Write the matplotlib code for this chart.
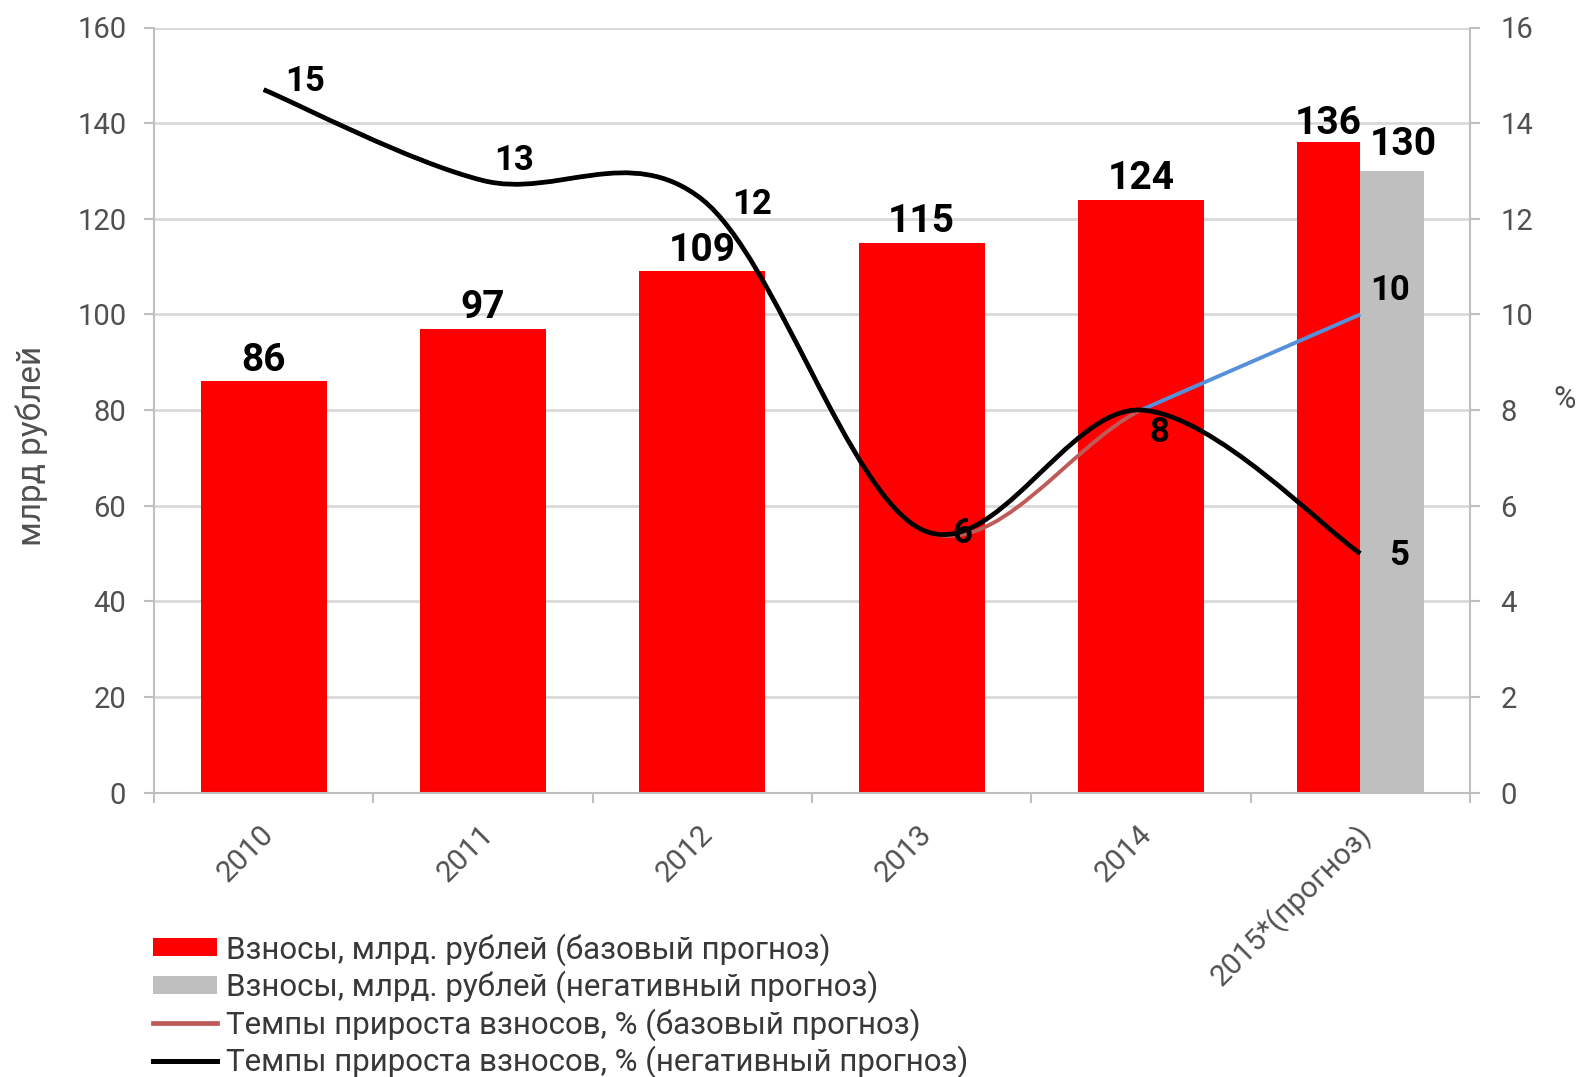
import matplotlib.pyplot as plt
import numpy as np
from matplotlib.path import Path
from matplotlib.patches import PathPatch, Patch
from matplotlib.lines import Line2D
from matplotlib.transforms import ScaledTranslation

plt.rcParams['font.family'] = ['Roboto', 'DejaVu Sans']

years = ['2010', '2011', '2012', '2013', '2014', '2015*(прогноз)']
contrib_base = [86, 97, 109, 115, 124, 136]      # млрд руб., базовый
contrib_neg = [0, 0, 0, 0, 0, 130]               # млрд руб., негативный (только 2015)
growth_base = [14.7, 12.8, 12.4, 5.5, 8.0, 10.0]  # %
growth_neg = [14.7, 12.8, 12.4, 5.5, 8.0, 5.0]    # %

legend_labels = ['Взносы, млрд. рублей (базовый прогноз)',
                 'Взносы, млрд. рублей (негативный прогноз)',
                 'Темпы прироста взносов, % (базовый прогноз)',
                 'Темпы прироста взносов, % (негативный прогноз)']

RED = '#FF0000'
GREY = '#BFBFBF'
BROWN = '#BE5A57'
BLUE = '#5590DA'
TXT = '#505050'


def smooth_path(xs, ys, nseg=None):
    # Excel-like smoothed line: cubic Bezier through the points
    pts = np.column_stack([xs, ys]).astype(float)
    n = len(pts)
    if nseg is None:
        nseg = n - 1
    verts = [pts[0]]
    codes = [Path.MOVETO]
    for i in range(nseg):
        p0 = pts[max(i - 1, 0)]
        p1 = pts[i]
        p2 = pts[i + 1]
        p3 = pts[min(i + 2, n - 1)]
        verts += [p1 + (p2 - p0) / 6, p2 - (p3 - p1) / 6, p2]
        codes += [Path.CURVE4] * 3
    return Path(verts, codes)


fig = plt.figure(figsize=(15.81, 10.77), dpi=100)
ax = fig.add_axes([154 / 1581, 1 - 792.5 / 1077, 1316 / 1581, 765 / 1077])
x = np.arange(len(years))

# bars
full_w = 0.574
half_w = 0.288
for i in x:
    if contrib_neg[i] > 0:
        ax.bar(i - half_w, contrib_base[i], half_w, align='edge', color=RED, zorder=2)
        ax.bar(i, contrib_neg[i], half_w, align='edge', color=GREY, zorder=2)
        ax.annotate(str(contrib_base[i]), (i - half_w / 2, contrib_base[i]), xytext=(0, 0),
                    textcoords='offset points', ha='center', va='bottom',
                    fontsize=28, fontweight='bold', color='black')
        ax.annotate(str(contrib_neg[i]), (i + half_w / 2, contrib_neg[i]), xytext=(8, 6),
                    textcoords='offset points', ha='center', va='bottom',
                    fontsize=28, fontweight='bold', color='black')
    else:
        ax.bar(i, contrib_base[i], full_w, color=RED, zorder=2)
        ax.annotate(str(contrib_base[i]), (i, contrib_base[i]), xytext=(0, 2),
                    textcoords='offset points', ha='center', va='bottom',
                    fontsize=28, fontweight='bold', color='black')

ax.set_xlim(-0.5, len(years) - 0.5)
ax.set_ylim(0, 160)
ax.set_yticks(np.arange(0, 161, 20))
ax.set_axisbelow(True)
ax.grid(axis='y', color='#D9D9D9', lw=2)

ax.set_xticks(x)
ax.set_xticklabels(years, rotation=45, ha='right', va='center', rotation_mode='anchor')
ax.set_xticks(np.arange(-0.5, len(years)), minor=True)
ax.tick_params(axis='x', which='major', length=0, pad=27, labelsize=21.5, labelcolor=TXT)
ax.tick_params(axis='x', which='minor', length=7, width=1.5, color='#BFBFBF', direction='out')
ax.tick_params(axis='y', length=7, width=1.5, color='#BFBFBF', pad=13, labelsize=21, labelcolor=TXT)
shift = ScaledTranslation(6 / 100, 0, fig.dpi_scale_trans)
for lab in ax.get_xticklabels():
    lab.set_transform(lab.get_transform() + shift)
for s in ['top', 'right']:
    ax.spines[s].set_visible(False)
for s in ['left', 'bottom']:
    ax.spines[s].set_color('#BFBFBF')
    ax.spines[s].set_linewidth(1.5)

# lines on the secondary axis
ax2 = ax.twinx()
ax2.set_ylim(0, 16)
ax2.set_yticks(np.arange(0, 17, 2))
ax2.tick_params(axis='y', length=7, width=1.5, color='#BFBFBF', pad=15, labelsize=21, labelcolor=TXT)
for s in ['top', 'left', 'bottom']:
    ax2.spines[s].set_visible(False)
ax2.spines['right'].set_color('#BFBFBF')
ax2.spines['right'].set_linewidth(1.5)

ax2.add_patch(PathPatch(smooth_path(x, growth_base, nseg=len(x) - 2), fill=False,
                        edgecolor=BROWN, lw=2.8, zorder=3))
ax2.plot(x[-2:], growth_base[-2:], color=BLUE, lw=2.8, zorder=3, solid_capstyle='butt')
ax2.add_patch(PathPatch(smooth_path(x, growth_neg), fill=False,
                        edgecolor='black', lw=3.4, zorder=4, capstyle='butt'))

neg_offsets = [(41, 8), (31, 20), (50, -5), (41, -4), (18, -23), (39, -2)]
for i, v in enumerate(growth_neg):
    dx, dy = neg_offsets[i]
    ax2.annotate(f'{v:.0f}', (x[i], v), xytext=(dx * 0.72, dy * 0.72),
                 textcoords='offset points', ha='center', va='center',
                 fontsize=25, fontweight='bold', color='black', zorder=5)
ax2.annotate(f'{growth_base[-1]:.0f}', (x[-1], growth_base[-1]), xytext=(30 * 0.72, 24 * 0.72),
             textcoords='offset points', ha='center', va='center',
             fontsize=25, fontweight='bold', color='black', zorder=5)

fig.text(32 / 1581, 1 - 446 / 1077, 'млрд рублей', rotation=90, ha='center', va='center',
         fontsize=24, color=TXT)
fig.text(1565 / 1581, 1 - 400 / 1077, '%', ha='center', va='center', fontsize=22, color=TXT)

handles = [Patch(facecolor=RED), Patch(facecolor=GREY),
           Line2D([], [], color=BROWN, lw=3.4), Line2D([], [], color='black', lw=3.6)]
fig.legend(handles, legend_labels, loc='upper left', bbox_to_anchor=(153 / 1581, 1 - 933 / 1077),
           frameon=False, fontsize=22.5, handlelength=2.05, handleheight=0.53,
           handletextpad=0.3, labelspacing=0.16, borderpad=0, borderaxespad=0,
           labelcolor='#383838')

fig.savefig('out.png', dpi=100)
